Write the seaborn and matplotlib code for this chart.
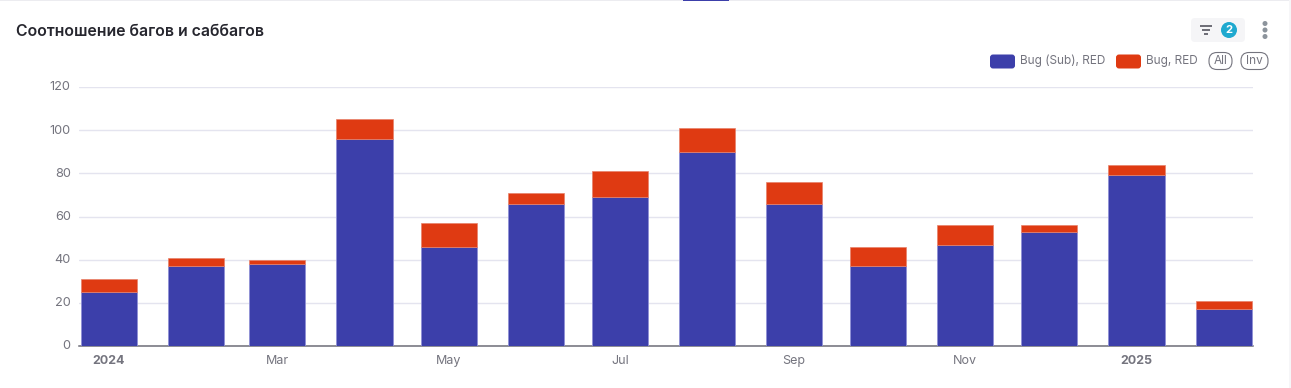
import datetime as dt
import matplotlib
matplotlib.use('Agg')
import matplotlib.pyplot as plt
import matplotlib.dates as mdates
from matplotlib.patches import FancyBboxPatch, Circle, Rectangle
from matplotlib.transforms import ScaledTranslation
import seaborn as sns

months = ['2024-01', '2024-02', '2024-03', '2024-04', '2024-05', '2024-06', '2024-07',
          '2024-08', '2024-09', '2024-10', '2024-11', '2024-12', '2025-01', '2025-02']
sub_bugs = [25, 37, 38, 96, 46, 66, 69, 90, 66, 37, 47, 53, 79, 17]
bugs = [6, 4, 2, 9, 11, 5, 12, 11, 10, 9, 9, 3, 5, 4]
y_ticks = [0, 20, 40, 60, 80, 100, 120]
x_tick_months = ['2024-01', '2024-03', '2024-05', '2024-07', '2024-09', '2024-11', '2025-01']
x_tick_labels = ['2024', 'Mar', 'May', 'Jul', 'Sep', 'Nov', '2025']

BLUE = '#3c3faa'
RED = '#df3a12'
GREY = '#74747e'
W, H = 1291, 388

sns.set_theme(style='white')
plt.rcParams['font.family'] = ['Inter', 'DejaVu Sans']


def to_num(m):
    return mdates.date2num(dt.datetime.strptime(m, '%Y-%m'))


x = [to_num(m) for m in months]

fig = plt.figure(figsize=(W / 100, H / 100), dpi=100)
ax = fig.add_axes([79 / W, 1 - 346 / H, (1253 - 79) / W, (346 - 87) / H])

# pixel overlay for header, legend
ov = fig.add_axes([0, 0, 1, 1], zorder=5)
ov.set_xlim(0, W)
ov.set_ylim(H, 0)
ov.axis('off')

sns.barplot(x=x, y=sub_bugs, native_scale=True, width=0.688, color=BLUE, saturation=1,
            edgecolor='#8f90d6', linewidth=0.6, ax=ax, zorder=3)
sns.barplot(x=x, y=bugs, bottom=sub_bugs, native_scale=True, width=0.688, color=RED, saturation=1,
            edgecolor='#e8826a', linewidth=0.5, ax=ax, zorder=3)

ax.set_xlim(x[0] - 10.7, x[0] + 407.5)
ax.set_ylim(0, 120)
ax.set_yticks(y_ticks)
ax.set_xticks([to_num(m) for m in x_tick_months])
ax.set_xticklabels(x_tick_labels)
ax.set_xlabel('')
ax.set_ylabel('')
ax.grid(axis='y', color='#e4e4ef', linewidth=1, zorder=0)
ax.set_axisbelow(True)
for s in ['top', 'right', 'left']:
    ax.spines[s].set_visible(False)
ax.spines['bottom'].set_color('#6e6e78')
ax.spines['bottom'].set_linewidth(1.1)
ax.tick_params(axis='y', length=0, pad=6, labelsize=9.2, labelcolor=GREY)
ax.tick_params(axis='x', length=4, width=0.9, color='#6e6e78', pad=2.5, labelsize=9, labelcolor=GREY)
for lab in ax.get_xticklabels():
    if lab.get_text().isdigit():
        lab.set_fontweight('bold')
for lab in ax.get_yticklabels():
    lab.set_transform(lab.get_transform() + ScaledTranslation(0, 0.8 / 72, fig.dpi_scale_trans))

ov.text(16, 31, 'Соотношение багов и саббагов', fontsize=11.4, fontweight='semibold',
        color='#26262e', va='center', ha='left')

# top edge and tab indicator
ov.add_patch(Rectangle((0, 0), W, 1.2, color='#ececf0', lw=0))
ov.add_patch(Rectangle((683, 0), 46, 1.4, color=BLUE, lw=0))
ov.add_patch(Rectangle((1289, 0), 2, H, color='#f6f6f8', lw=0))

# filter button
ov.add_patch(FancyBboxPatch((1191, 18), 54, 24, boxstyle='round,pad=0,rounding_size=4', fc='#f5f5f7', ec='none'))
for y0, x0, x1 in [(25.5, 1200, 1212), (29.5, 1202, 1210), (33.5, 1204, 1208)]:
    ov.plot([x0, x1], [y0, y0], color='#55555f', lw=1.2, solid_capstyle='butt')
ov.add_patch(Circle((1229, 30), 8, fc='#1fa9cf', ec='none'))
ov.text(1229, 30.2, '2', color='white', fontsize=8, fontweight='bold', ha='center', va='center')
for cy in [23.5, 30, 36.5]:
    ov.add_patch(Circle((1265, cy), 2.5, fc='#8c949c', ec='none'))

# legend
ov.add_patch(FancyBboxPatch((990, 54.5), 25, 14, boxstyle='round,pad=0,rounding_size=3', fc=BLUE, ec='none'))
ov.text(1020, 61, 'Bug (Sub), RED', fontsize=8.5, color=GREY, va='center', ha='left')
ov.add_patch(FancyBboxPatch((1116, 54.5), 25, 14, boxstyle='round,pad=0,rounding_size=3', fc=RED, ec='none'))
ov.text(1146, 61, 'Bug, RED', fontsize=8.5, color=GREY, va='center', ha='left')
for bx, bw, txt in [(1209, 23, 'All'), (1241, 27, 'Inv')]:
    ov.add_patch(FancyBboxPatch((bx, 52.5), bw, 17, boxstyle='round,pad=0,rounding_size=8', fc='white',
                                ec='#74747e', lw=0.8))
    ov.text(bx + bw / 2, 61, txt, fontsize=8.5, color=GREY, va='center', ha='center')

fig.savefig('out.png', dpi=100)
